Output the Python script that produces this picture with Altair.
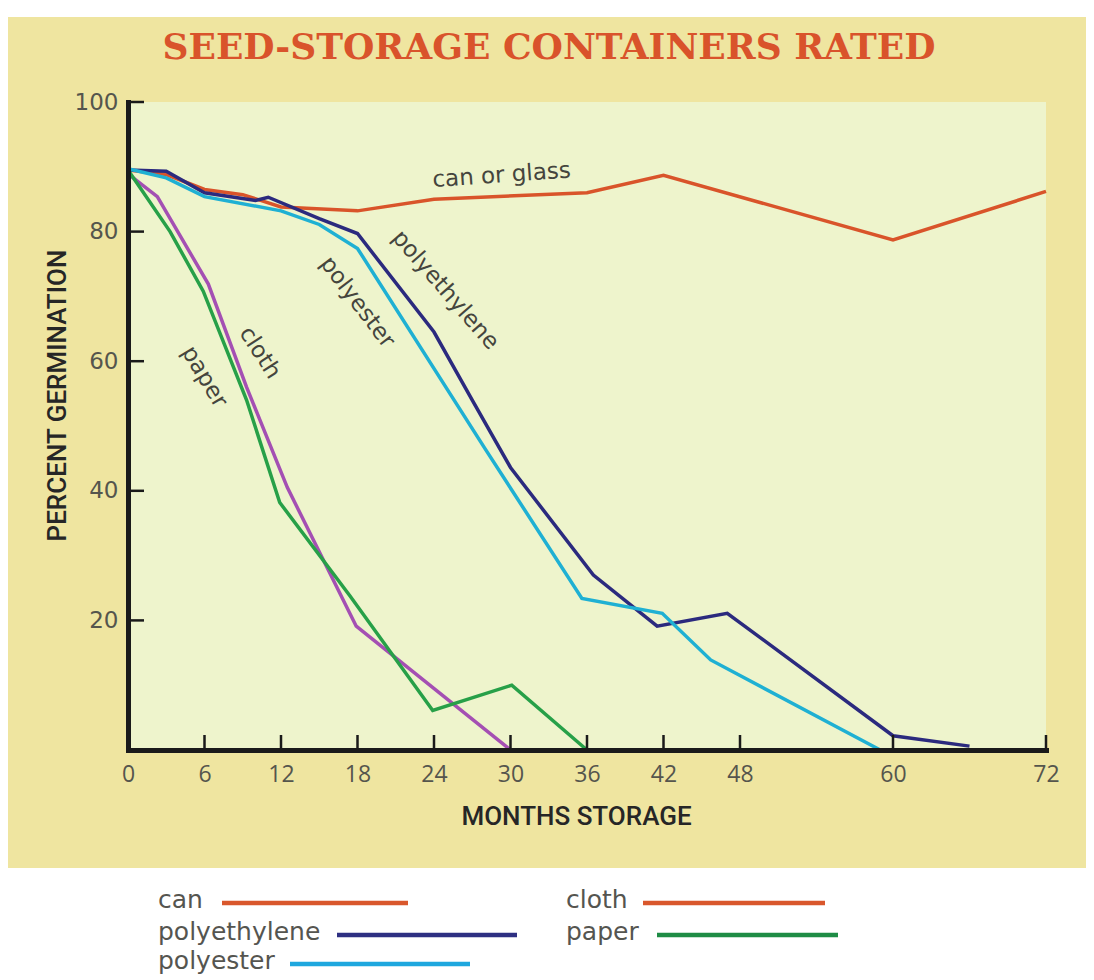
import altair as alt
import pandas as pd

# ---------------- data ----------------
series_names = ["can", "polyester", "polyethylene", "paper", "cloth"]
series_colors = ["#d9542a", "#1fb0d3", "#2b2a7e", "#27a048", "#a44fb3"]

months_can = [0, 3, 6, 9, 12, 18, 24, 36, 42, 60, 72]
pct_can = [89.5, 88.8, 86.5, 85.7, 83.8, 83.2, 85.0, 86.0, 88.7, 78.7, 86.2]

months_polyethylene = [0, 3, 6, 10, 11, 15, 18, 24, 27, 30, 36.5, 41.5, 47, 60, 66]
pct_polyethylene = [89.5, 89.3, 86.0, 84.8, 85.3, 82.0, 79.7, 64.5, 54.0, 43.6, 27.0, 19.1, 21.1, 2.2, 0.6]

months_polyester = [0, 3, 6, 12, 15, 18, 28, 35.6, 41.9, 45.7, 59]
pct_polyester = [89.7, 88.3, 85.4, 83.2, 81.1, 77.4, 46.5, 23.4, 21.1, 13.9, 0]

months_cloth = [0, 2.3, 6.3, 9.3, 12.5, 17.9, 30]
pct_cloth = [88.9, 85.4, 71.9, 56.0, 40.5, 19.1, 0]

months_paper = [0, 3.3, 5.9, 9.3, 11.9, 17.4, 23.9, 30.1, 36]
pct_paper = [89.5, 80.0, 70.8, 54.0, 38.2, 23.8, 6.1, 10.0, 0]

x_tick_values = [0, 6, 12, 18, 24, 30, 36, 42, 48, 60, 72]
y_tick_values = [20, 40, 60, 80, 100]

ann_text = ["can or glass", "polyethylene", "polyester", "cloth", "paper"]
ann_month = [29.3, 24.9, 18.0, 10.35, 6.0]
ann_pct = [88.7, 71.0, 69.1, 61.3, 57.6]
ann_angle = [356, 49, 53, 57, 59]

legend_labels = ["can", "polyethylene", "polyester", "cloth", "paper"]
legend_colors = ["#d9572c", "#2e3082", "#1ea7de", "#d9572c", "#1e8c45"]

title_text = "SEED-STORAGE CONTAINERS RATED"

# ---------------- layout (pixels, plot-relative) ----------------
W, H = 918, 648
PAD = {"left": 120, "top": 94, "right": 40, "bottom": 224}
legend_label_x = [30, 30, 30, 438, 438]
legend_row_y = [800, 832, 861]
legend_rows = [0, 1, 2, 0, 1]
legend_line = [(94, 280), (209, 389), (162, 342), (515, 697), (529, 710)]

rows = []
for name, ms, ps in [
    ("can", months_can, pct_can),
    ("polyethylene", months_polyethylene, pct_polyethylene),
    ("polyester", months_polyester, pct_polyester),
    ("cloth", months_cloth, pct_cloth),
    ("paper", months_paper, pct_paper),
]:
    for m, p in zip(ms, ps):
        rows.append({"series": name, "month": m, "pct": p})
df = pd.DataFrame(rows)

one = alt.Data(values=[{}])

x_scale = alt.Scale(domain=[0, 72], nice=False, zero=False)
y_scale = alt.Scale(domain=[0, 100], nice=False)

x_axis = alt.Axis(
    values=x_tick_values, title="MONTHS STORAGE",
    titleX=448, titleY=66, titleAlign="center", titleBaseline="middle",
    titleFont="Roboto", titleFontSize=26, titleFontWeight=500, titleColor="#262626",
    labelFont="Liberation Sans Narrow, Open Sans", labelFontSize=23, labelColor="#55554d",
    labelPadding=13, labelFlush=False, labelOverlap=False, ticks=False, grid=False,
    domainColor="#1a1a1a", domainWidth=5, domainCap="square", zindex=1,
)
y_axis = alt.Axis(
    values=y_tick_values, title="PERCENT GERMINATION",
    titleAngle=270, titleX=-71, titleY=293, titleAlign="center", titleBaseline="middle",
    titleFont="Roboto", titleFontSize=26, titleFontWeight=500, titleColor="#262626",
    labelFont="DejaVu Sans", labelFontSize=23, labelColor="#55554d",
    labelPadding=10, labelOverlap=False, ticks=False, grid=False,
    domainColor="#1a1a1a", domainWidth=5, domainCap="square", zindex=1,
)

panel = alt.Chart(one).mark_rect(color="#efe5a0").encode(
    x=alt.value(-121), x2=alt.value(W + 40), y=alt.value(-85), y2=alt.value(H + 118)
)
plot_bg = alt.Chart(one).mark_rect(color="#eef4cc").encode(
    x=alt.value(0), x2=alt.value(W), y=alt.value(0), y2=alt.value(H)
)

lines = alt.Chart(df).mark_line(strokeWidth=3.5).encode(
    x=alt.X("month:Q", scale=x_scale, axis=x_axis),
    y=alt.Y("pct:Q", scale=y_scale, axis=y_axis),
    color=alt.Color("series:N", scale=alt.Scale(domain=series_names, range=series_colors), legend=None),
)

xt = alt.Chart(pd.DataFrame({"month": x_tick_values[1:]})).mark_rule(color="#1a1a1a", strokeWidth=2.5).encode(
    x="month:Q", y=alt.value(H), y2=alt.value(H - 15)
)
yt = alt.Chart(pd.DataFrame({"pct": y_tick_values})).mark_rule(color="#1a1a1a", strokeWidth=2.5).encode(
    y="pct:Q", x=alt.value(0), x2=alt.value(16)
)

ann_layers = []
for t, m, p, a in zip(ann_text, ann_month, ann_pct, ann_angle):
    ann_layers.append(
        alt.Chart(pd.DataFrame({"month": [m], "pct": [p], "label": [t]})).mark_text(
            font="DejaVu Sans", fontSize=23, color="#45453d", angle=a,
            align="center", baseline="middle"
        ).encode(x="month:Q", y="pct:Q", text="label:N")
    )

title = alt.Chart(one).mark_text(
    text=title_text, font="DejaVu Serif", fontWeight="bold", fontSize=36,
    color="#d9532b", align="center", baseline="middle"
).encode(x=alt.value(421), y=alt.value(-54))

legend_layers = []
for lab, col, lx, r, (a, b) in zip(legend_labels, legend_colors, legend_label_x, legend_rows, legend_line):
    yy = legend_row_y[r]
    legend_layers.append(
        alt.Chart(one).mark_text(text=lab, font="DejaVu Sans", fontSize=25, color="#555550",
                                 align="left", baseline="middle").encode(x=alt.value(lx), y=alt.value(yy - 2))
    )
    legend_layers.append(
        alt.Chart(one).mark_rule(color=col, strokeWidth=4.5).encode(
            x=alt.value(a), x2=alt.value(b), y=alt.value(yy + 1)
        )
    )

chart = alt.layer(panel, plot_bg, lines, xt, yt, *ann_layers, title, *legend_layers).properties(
    width=W, height=H,
    autosize=alt.AutoSizeParams(type="none"),
    padding=PAD,
    background="white",
).configure_view(strokeWidth=0)

chart.save("out.html", embed_options={"renderer": "svg", "actions": False})
